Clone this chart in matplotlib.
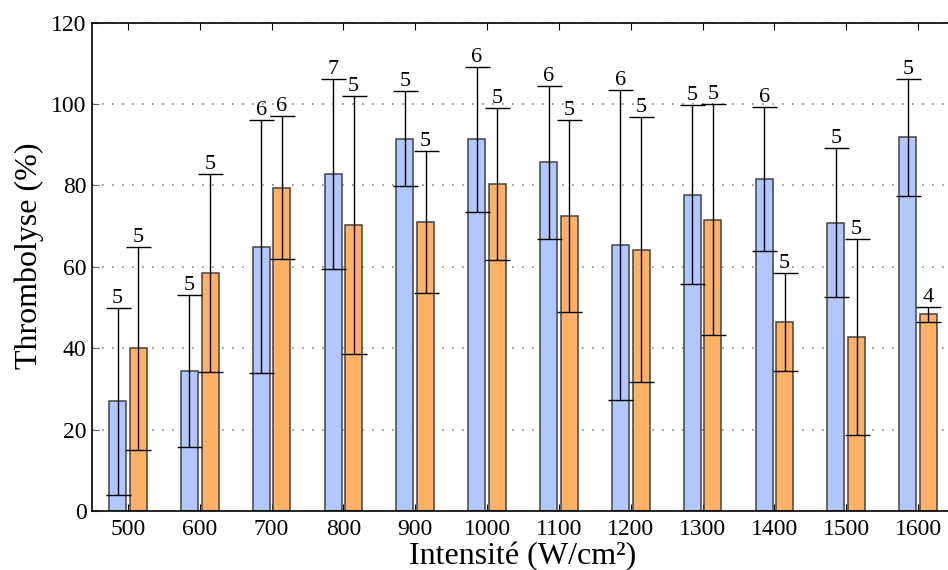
import matplotlib
matplotlib.use("Agg")
import matplotlib.pyplot as plt
import numpy as np

categories = ["500", "600", "700", "800", "900", "1000", "1100", "1200",
              "1300", "1400", "1500", "1600"]
blue_vals = [27.0, 34.5, 65.0, 82.8, 91.5, 91.3, 85.7, 65.4, 77.7, 81.5, 70.8, 91.8]
blue_err = [23.0, 18.7, 31.0, 23.3, 11.7, 17.8, 18.8, 38.0, 22.0, 17.7, 18.3, 14.4]
blue_n = [5, 5, 6, 7, 5, 6, 6, 6, 5, 6, 5, 5]
orange_vals = [40.0, 58.5, 79.5, 70.3, 71.0, 80.3, 72.6, 64.2, 71.6, 46.4, 42.8, 48.3]
orange_err = [25.0, 24.3, 17.5, 31.8, 17.5, 18.7, 23.6, 32.6, 28.3, 12.1, 24.1, 1.9]
orange_n = [5, 5, 6, 5, 5, 5, 5, 5, 5, 5, 5, 4]

plt.rcParams['font.family'] = ['Liberation Serif', 'DejaVu Serif']

fig = plt.figure(figsize=(9.48, 5.70), dpi=100)
ax = fig.add_axes([92/948, 59/570, (954-92)/948, (511-22.7)/570])

x = np.arange(len(categories))
w = 0.237
off = 0.143
blue_c = '#b3c7ff'
orange_c = '#ffb266'

ax.bar(x - off, blue_vals, width=w, color=blue_c, edgecolor='#444444', linewidth=1.1, zorder=2)
ax.bar(x + off, orange_vals, width=w, color=orange_c, edgecolor='#444444', linewidth=1.1, zorder=2)
ax.errorbar(x - off, blue_vals, yerr=blue_err, fmt='none', ecolor='black',
            elinewidth=1.0, capsize=9, capthick=1.0, zorder=3)
ax.errorbar(x + off, orange_vals, yerr=orange_err, fmt='none', ecolor='black',
            elinewidth=1.0, capsize=9, capthick=1.0, zorder=3)

for xi, v, e, n in zip(x - off, blue_vals, blue_err, blue_n):
    ax.annotate(str(n), (xi, v + e), xytext=(0, 0), textcoords='offset points',
                ha='center', va='bottom', fontsize=16)
for xi, v, e, n in zip(x + off, orange_vals, orange_err, orange_n):
    ax.annotate(str(n), (xi, v + e), xytext=(0, 0), textcoords='offset points',
                ha='center', va='bottom', fontsize=16)

ax.set_xlim(-0.5, len(categories) - 0.5)
ax.set_ylim(0, 120)
ax.set_xticks(x)
ax.set_xticklabels(categories)
ax.set_yticks([0, 20, 40, 60, 80, 100, 120])
ax.tick_params(axis='x', direction='in', length=5, top=True, labelsize=17, pad=6)
ax.tick_params(axis='y', direction='in', length=5, color='#666666', labelsize=17, pad=4)
ax.yaxis.grid(True, linestyle=(0, (1, 5)), color='#888888', linewidth=1.2, zorder=0)
ax.set_axisbelow(True)
for s in ax.spines.values():
    s.set_linewidth(1.2)

ax.set_xlabel('Intensité (W/cm²)', fontsize=23)
ax.xaxis.set_label_coords(0.5, -0.064)
ax.set_ylabel('Thrombolyse (%)', fontsize=23)
ax.yaxis.set_label_coords(-0.056, 0.523)

fig.savefig('out.png', dpi=100)
